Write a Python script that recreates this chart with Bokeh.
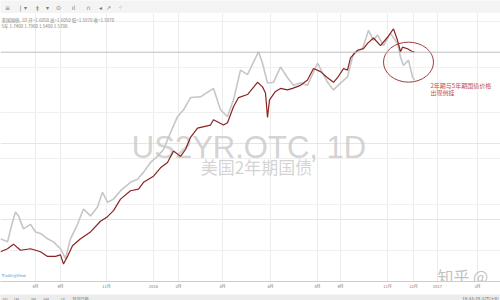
from bokeh.plotting import figure
from bokeh.layouts import column
from bokeh.models import FixedTicker, Span, Grid
from bokeh.core.properties import value
from bokeh.embed import file_html
from bokeh.resources import INLINE

# ---- data (bar index, yield %) ----
red_x = [0, 7, 13, 20, 30, 40, 47, 55, 60, 63, 67, 72, 80, 90, 100, 107, 113, 120, 130, 138,
         143, 153, 160, 167, 173, 180, 185, 190, 197, 210, 213, 223, 227, 233, 238, 247, 257, 262, 265, 267,
         269, 275, 280, 287, 292, 300, 307, 313, 320, 327, 333, 337, 343, 347, 350, 357, 363, 367, 373, 380,
         387, 393, 397, 400, 402, 407, 412, 414]
red_y = [0.29, 0.31, 0.34, 0.30, 0.31, 0.29, 0.26, 0.26, 0.27, 0.21, 0.26, 0.33, 0.375, 0.42, 0.49, 0.52, 0.56, 0.635, 0.69, 0.70,
         0.745, 0.785, 0.84, 0.875, 0.95, 0.915, 0.96, 1.04, 1.10, 1.12, 1.155, 1.12, 1.135, 1.24, 1.30, 1.32, 1.40, 1.37, 1.33, 1.17,
         1.285, 1.34, 1.36, 1.35, 1.36, 1.38, 1.415, 1.49, 1.47, 1.43, 1.40, 1.43, 1.49, 1.48, 1.56, 1.61, 1.62, 1.655, 1.69, 1.64,
         1.695, 1.75, 1.675, 1.60, 1.63, 1.62, 1.60, 1.60]

gray_x = [0, 7, 12, 15, 18, 23, 30, 35, 40, 47, 53, 60, 65, 70, 77, 83, 90, 97, 102, 107,
          113, 120, 130, 137, 143, 150, 157, 163, 170, 177, 183, 190, 200, 213, 220, 227, 233, 240, 247, 258,
          262, 267, 273, 280, 287, 293, 300, 307, 317, 327, 333, 340, 347, 353, 362, 368, 373, 377, 383, 390,
          397, 400, 403, 408, 412, 414]
gray_y = [0.375, 0.355, 0.485, 0.55, 0.525, 0.44, 0.47, 0.42, 0.41, 0.375, 0.355, 0.31, 0.245, 0.375, 0.47, 0.57, 0.525, 0.583, 0.68, 0.615,
          0.635, 0.69, 0.745, 0.765, 0.81, 0.875, 0.915, 0.96, 1.07, 1.175, 1.22, 1.30, 1.305, 1.36, 1.22, 1.175, 1.285, 1.48, 1.45, 1.60,
          1.525, 1.395, 1.40, 1.50, 1.43, 1.38, 1.395, 1.38, 1.525, 1.40, 1.35, 1.395, 1.435, 1.59, 1.62, 1.74, 1.675, 1.71, 1.64, 1.72,
          1.655, 1.565, 1.51, 1.545, 1.435, 1.415]

last_price = 1.597
tick_pos = [35, 60, 106, 153, 178, 222, 270, 317, 340, 387, 413, 437, 477]
tick_labels = ["8月", "9月", "11月", "2016", "2月", "4月", "6月", "8月", "9月", "11月", "12月", "2017", "3月"]
grid_y = [0.3, 0.6, 0.9, 1.2, 1.5, 1.8]
range_buttons = ["5D", "1M", "3M", "6M", "1Y", "转到日期..."]
range_button_pos = [2, 13, 30, 43, 60, 72]

CJK = "Noto Sans CJK SC"

# ---- toolbar strip ----
tb = figure(width=500, height=13, x_range=(0, 500), y_range=(0, 13), output_backend="svg",
            toolbar_location=None, x_axis_location=None, y_axis_location=None,
            min_border=0, outline_line_color=None,
            background_fill_color="#f4f4f4", border_fill_color="#f4f4f4")
tb.grid.visible = False
tb.text(x=[7, 20, 25, 37, 47, 58, 73, 88, 100, 108, 120],
        y=[6.5] * 11,
        text=["≡", "|", "▾", "ǂ", "▾", "⊙", "ıl", "∩", "◂", "↗", "⁘"],
        text_font=value("DejaVu Sans"), text_font_size="6px", text_color="#777777",
        text_align="center", text_baseline="middle")

# ---- main chart ----
p = figure(width=500, height=278, x_range=(0, 500), y_range=(0.0955, 1.8505),
           output_backend="svg", toolbar_location=None, y_axis_location=None,
           min_border_left=0, min_border_right=0, min_border_top=0, min_border_bottom=8,
           outline_line_color=None, background_fill_color="white", border_fill_color="white")

p.xaxis.ticker = FixedTicker(ticks=tick_pos)
p.xaxis.major_label_overrides = {t: l for t, l in zip(tick_pos, tick_labels)}
p.xaxis.major_label_text_font_size = "4px"
p.xaxis.major_label_text_font = CJK
p.xaxis.major_label_text_color = "#777777"
p.xaxis.major_label_standoff = 1
p.xaxis.major_tick_out = 0
p.xaxis.major_tick_in = 0
p.xaxis.minor_tick_out = 0
p.xaxis.minor_tick_in = 0
p.xaxis.axis_line_color = "#cccccc"
p.xgrid.ticker = FixedTicker(ticks=tick_pos)
p.xgrid.grid_line_color = "#ececec"
p.add_layout(Grid(dimension=1, ticker=FixedTicker(ticks=grid_y), grid_line_color="#f0f0f0"))

p.add_layout(Span(location=last_price, dimension="width", line_color="#bdbdbd", line_width=1))

# watermark
p.text(x=[248.5], y=[0.973], text=["US2YR.OTC, 1D"], text_font=value("Liberation Sans"),
       text_font_size="31px", text_color="#c8c8c8", text_alpha=0.8,
       text_align="center", text_baseline="alphabetic")
p.text(x=[256], y=[0.846], text=["美国2年期国债"], text_font=value(CJK),
       text_font_size="17px", text_color="#cccccc", text_alpha=0.85,
       text_align="center", text_baseline="middle")

# series
p.line(gray_x, gray_y, line_color="#c6c6c6", line_width=1.6)
p.line(red_x, red_y, line_color="#8b2323", line_width=1.2)

# header legend texts
p.text(x=[1], y=[1.805], text=["美国国债, 1D  开=1.6050  高=1.6050  低=1.5970  收=1.5970"],
       text_font=value(CJK), text_font_size="4.5px", text_color="#808080",
       text_align="left", text_baseline="middle")
p.text(x=[1], y=[1.766], text=["5年  1.7400  1.7900  1.5400  1.5700"],
       text_font=value(CJK), text_font_size="4.5px", text_color="#808080",
       text_align="left", text_baseline="middle")

# annotation
p.ellipse(x=[408], y=[1.532], width=[50], height=[40], width_units="screen", height_units="screen",
          fill_color=None, line_color="#a33a3a", line_width=1)
p.text(x=[430, 430], y=[1.379, 1.334], text=["2年期与5年期国债价格", "出现倒挂"],
       text_font=value(CJK), text_font_size="6px", text_color="#c0504d",
       text_align="left", text_baseline="middle")

# bottom-left link and zhihu watermark
p.text(x=[1], y=[0.1345], text=["TradingView"], text_font=value("DejaVu Sans"),
       text_font_size="4px", text_color="#5a9bd5", text_align="left", text_baseline="middle")
p.text(x=[437], y=[0.13], text=["知乎 @"], text_font=value(CJK),
       text_font_size="16px", text_color="#b0b0b0", text_alpha=0.8,
       text_align="left", text_baseline="alphabetic")

# ---- bottom bar ----
bb = figure(width=500, height=9, x_range=(0, 500), y_range=(0, 9), output_backend="svg",
            toolbar_location=None, x_axis_location=None, y_axis_location=None,
            min_border=0, outline_line_color=None,
            background_fill_color="#ececec", border_fill_color="#ececec")
bb.grid.visible = False
bb.text(x=range_button_pos, y=[5] * len(range_buttons), text=range_buttons,
        text_font=value(CJK), text_font_size="4px", text_color="#777777",
        text_align="left", text_baseline="middle")
bb.text(x=[498], y=[5], text=["19:44:45 (UTC+8)"], text_font=value("DejaVu Sans"),
        text_font_size="4px", text_color="#777777", text_align="right", text_baseline="middle")

layout = column(tb, p, bb, spacing=0)
open("out.html", "w").write(file_html(layout, INLINE))
